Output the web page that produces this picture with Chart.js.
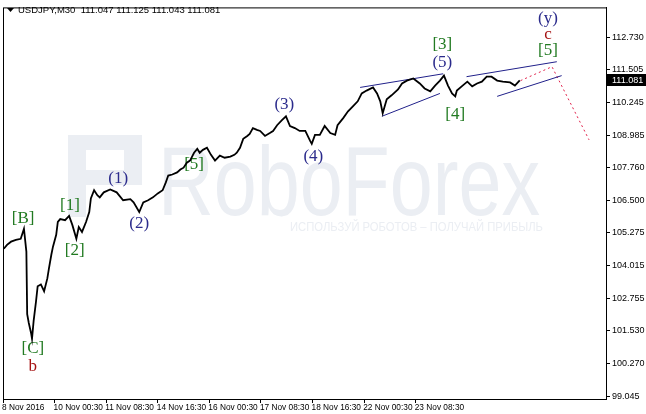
<!DOCTYPE html>
<html>
<head>
<meta charset="utf-8">
<script src="https://cdn.jsdelivr.net/npm/chart.js@4.4.1/dist/chart.umd.min.js"></script>
<style>
  html, body { margin: 0; padding: 0; background: #fff; }
  canvas { display: block; }
</style>
</head>
<body>
<canvas id="chart" width="646" height="414"></canvas>
<script>
// USDJPY M30 - bar numbers counted from the first visible bar
const barIndex = [
  1, 5, 10, 16, 22, 26, 29, 30, 32, 35, 36, 38, 41, 43, 47, 51, 55, 57, 60, 62,
  66, 68, 71, 77, 82, 86, 91, 94, 98, 103, 107, 109, 113, 117, 120, 125, 133, 141, 149, 158,
  162, 169, 174, 180, 186, 192, 198, 202, 205, 210, 216, 220, 224, 228, 232, 237, 241, 244, 248, 253,
  258, 263, 269, 275, 282, 287, 290, 294, 298, 303, 306, 310, 315, 319, 325, 331, 335, 340, 346, 351,
  356, 362, 368, 375, 381, 383, 387, 393, 399, 406, 412, 415, 422, 428, 434, 440, 445, 451, 459, 464,
  468, 471, 476, 482, 490, 495, 501, 509, 517, 523, 530, 536, 542, 547, 552, 557, 561, 563, 569, 576,
  582, 588, 594, 600, 606, 613, 620, 629, 635, 641
];
const closePrice = [
  104.66, 104.81, 104.93, 105.00, 105.04, 105.42, 104.55, 102.17, 101.83, 101.42, 101.23, 101.91, 102.66, 103.23, 103.30, 103.04, 103.53, 103.91, 104.44, 104.74,
  105.19, 105.68, 105.79, 105.75, 105.91, 105.57, 105.04, 105.49, 105.30, 105.68, 106.06, 106.58, 106.89, 106.70, 106.62, 106.81, 106.92, 106.81, 106.51, 106.55,
  106.43, 106.06, 106.43, 106.51, 106.62, 106.77, 106.89, 107.19, 107.45, 107.49, 107.57, 107.68, 107.75, 107.94, 108.02, 108.32, 108.47, 108.32, 108.43, 108.51,
  108.24, 108.02, 108.21, 108.13, 108.17, 108.24, 108.32, 108.51, 108.85, 108.96, 109.04, 109.26, 109.19, 109.15, 108.96, 109.07, 109.15, 109.37, 109.56, 109.71,
  109.34, 109.26, 109.15, 109.15, 108.77, 108.66, 109.00, 109.00, 109.34, 109.07, 109.00, 109.37, 109.64, 109.90, 110.09, 110.28, 110.58, 110.69, 110.81, 110.58,
  110.28, 109.83, 110.36, 110.51, 110.73, 110.96, 111.07, 111.15, 110.96, 110.77, 110.66, 110.88, 111.07, 111.26, 110.88, 110.58, 110.47, 110.69, 110.85, 111.03,
  110.85, 110.96, 111.03, 111.22, 111.22, 111.07, 111.03, 111.00, 110.88, 111.08
];

const timeTicks = [0, 64, 128, 192, 256, 320, 384, 448, 512];
const timeLabels = ['8 Nov 2016', '10 Nov 00:30', '11 Nov 08:30', '14 Nov 16:30', '16 Nov 00:30',
  '17 Nov 08:30', '18 Nov 16:30', '22 Nov 00:30', '23 Nov 08:30'];
const priceTicks = [112.730, 111.505, 110.245, 108.985, 107.760, 106.500, 105.275,
  104.015, 102.755, 101.530, 100.270, 99.045];
const lastPrice = 111.081;
const headerText = 'USDJPY,M30  111.047 111.125 111.043 111.081';

// wedge lines, each [startBar, startPrice, endBar, endPrice]
const wedgeLines = [
  [443, 110.81, 546, 111.33],
  [470, 109.71, 542, 110.58],
  [575, 111.22, 687, 111.79],
  [613, 110.47, 693, 111.26]
];
// forecast path (red dotted)
const forecastBars = [642, 681, 727];
const forecastPrices = [111.07, 111.60, 108.81];

// wave marks
const waveText  = ['[B]', '[1]', '[2]', '[C]', 'b', '(1)', '(2)', '[5]', '(3)', '(4)', '[3]', '(5)', '[4]', '(y)', 'c', '[5]'];
const waveBar   = [25, 83, 89, 37, 37, 143, 169, 237, 349, 385, 545, 545, 561, 676, 676, 676];
const wavePrice = [105.83, 106.32, 104.59, 100.86, 100.18, 107.34, 105.61, 107.87, 110.17, 108.17, 112.43, 111.75, 109.79, 113.45, 112.81, 112.20];
const waveKind  = ['g', 'g', 'g', 'g', 'r', 'n', 'n', 'g', 'n', 'n', 'g', 'n', 'g', 'n', 'r', 'g'];
const waveColors = { g: '#217a21', n: '#2b2b8c', r: '#a51212' };

const datasets = [{
  data: barIndex.map((b, i) => ({ x: b, y: closePrice[i] })),
  borderColor: '#000',
  borderWidth: 1.8,
  pointRadius: 0,
  order: 1
}];
wedgeLines.forEach(l => {
  datasets.push({
    data: [{ x: l[0], y: l[1] }, { x: l[2], y: l[3] }],
    borderColor: '#20208a',
    borderWidth: 1,
    pointRadius: 0,
    order: 2
  });
});
datasets.push({
  data: forecastBars.map((b, i) => ({ x: b, y: forecastPrices[i] })),
  borderColor: '#e0204a',
  borderWidth: 1,
  borderDash: [2, 3],
  pointRadius: 0,
  order: 2
});

const decorations = {
  id: 'decorations',
  beforeDatasetsDraw(chart) {
    const { ctx, scales: { x, y } } = chart;
    ctx.save();
    // watermark
    ctx.fillStyle = '#ebeef3';
    ctx.fillRect(68, 135, 74, 15);
    ctx.fillRect(68, 135, 18, 82);
    ctx.fillRect(124, 135, 18, 50);
    ctx.fillRect(86, 170, 56, 15);
    ctx.font = '98px "Liberation Sans"';
    ctx.textBaseline = 'alphabetic';
    ctx.textAlign = 'left';
    ctx.fillText('RoboForex', 158, 215, 382);
    ctx.font = '12px "Liberation Sans"';
    ctx.fillText('ИСПОЛЬЗУЙ РОБОТОВ – ПОЛУЧАЙ ПРИБЫЛЬ', 290, 231, 253);

    // wave labels
    ctx.font = '17px "Liberation Serif"';
    ctx.textAlign = 'center';
    ctx.textBaseline = 'middle';
    waveText.forEach((t, i) => {
      ctx.fillStyle = waveColors[waveKind[i]];
      ctx.fillText(t, x.getPixelForValue(waveBar[i]), y.getPixelForValue(wavePrice[i]));
    });
    ctx.restore();
  },
  afterDraw(chart) {
    const { ctx, chartArea: a, scales: { y } } = chart;
    ctx.save();
    ctx.strokeStyle = '#000';
    ctx.lineWidth = 1;
    ctx.strokeRect(a.left + 0.5, a.top + 0.5, a.right - a.left, a.bottom - a.top);

    // header
    ctx.fillStyle = '#000';
    ctx.beginPath();
    ctx.moveTo(7, 8); ctx.lineTo(14, 8); ctx.lineTo(10.5, 12); ctx.closePath();
    ctx.fill();
    ctx.font = '9.5px "Liberation Sans"';
    ctx.textAlign = 'left';
    ctx.textBaseline = 'middle';
    ctx.fillText(headerText, 18, 10.5);

    // last price marker
    const py = Math.round(y.getPixelForValue(lastPrice));
    ctx.fillRect(a.right + 1, py - 6, 40, 12);
    ctx.fillStyle = '#fff';
    ctx.font = '9px "Liberation Sans"';
    ctx.fillText(lastPrice.toFixed(3), a.right + 6, py + 0.5);
    ctx.restore();
  }
};

new Chart(document.getElementById('chart'), {
  type: 'line',
  data: { datasets },
  options: {
    responsive: false,
    animation: false,
    devicePixelRatio: 1,
    layout: { padding: { left: 3, top: 3, right: 0, bottom: 0 } },
    plugins: { legend: { display: false }, tooltip: { enabled: false } },
    scales: {
      x: {
        type: 'linear',
        min: 0,
        max: 748,
        afterBuildTicks: s => { s.ticks = timeTicks.map(v => ({ value: v })); },
        afterFit: s => { s.height = 15; },
        ticks: {
          callback: (v, i) => timeLabels[i],
          align: 'start',
          labelOffset: -1,
          autoSkip: false,
          maxRotation: 0,
          padding: 0,
          color: '#000',
          font: { family: 'Liberation Sans', size: 8.3 }
        },
        grid: { drawOnChartArea: false, tickLength: 4, color: '#000' },
        border: { color: '#000' }
      },
      y: {
        position: 'right',
        min: 98.932,
        max: 113.861,
        afterBuildTicks: s => { s.ticks = priceTicks.map(v => ({ value: v })); },
        afterFit: s => { s.width = 40; },
        ticks: {
          callback: v => v.toFixed(3),
          padding: 2,
          color: '#000',
          font: { family: 'Liberation Sans', size: 9 }
        },
        grid: { drawOnChartArea: false, tickLength: 4, color: '#000' },
        border: { color: '#000' }
      }
    }
  },
  plugins: [decorations]
});
</script>
</body>
</html>
